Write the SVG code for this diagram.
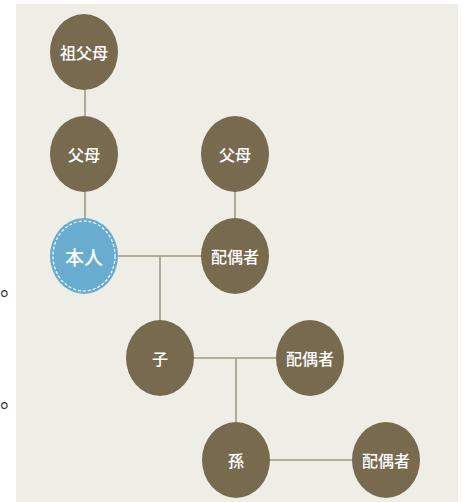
<svg xmlns="http://www.w3.org/2000/svg" width="463" height="502" viewBox="0 0 463 502">
<style>
.bg{fill:#efeee6}
.node{fill:#786a4f}
.self{fill:#68acd0}
.dash{fill:none;stroke:#ffffff;stroke-width:1.2;stroke-dasharray:3 2}
.lbl{fill:#ffffff;font-family:"Noto Sans CJK JP","Noto Sans CJK SC",sans-serif;font-size:16px;font-weight:500;text-anchor:middle;dominant-baseline:central}
.big{font-size:19px}
.conn{stroke:#a09882;stroke-width:1.6;fill:none}
.dot{fill:#333333;font-family:"Noto Sans CJK JP",sans-serif;font-size:22px}
</style>
<rect class="bg" x="16" y="4" width="442" height="498"/>
<text class="dot" x="0" y="295">。</text>
<text class="dot" x="0" y="407">。</text>
<g id="connectors">
<line class="conn" x1="85" y1="89" x2="85" y2="116"/>
<line class="conn" x1="85" y1="191" x2="85" y2="219"/>
<line class="conn" x1="235" y1="191" x2="235" y2="219"/>
<line class="conn" x1="118" y1="256" x2="202" y2="256"/>
<line class="conn" x1="160" y1="256" x2="160" y2="321"/>
<line class="conn" x1="193" y1="358" x2="277" y2="358"/>
<line class="conn" x1="236" y1="358" x2="236" y2="423"/>
<line class="conn" x1="270" y1="460" x2="353" y2="460"/>
</g>
<g id="grandparents">
<ellipse class="node" cx="84" cy="52" rx="34" ry="38"/>
<text class="lbl" x="84" y="52">祖父母</text>
</g>
<g id="parents-left">
<ellipse class="node" cx="84" cy="154" rx="34" ry="38"/>
<text class="lbl" x="84" y="154">父母</text>
</g>
<g id="self">
<ellipse class="self" cx="84" cy="256" rx="34" ry="38"/>
<ellipse class="dash" cx="84" cy="256" rx="31" ry="35"/>
<text class="lbl big" x="84" y="256">本人</text>
</g>
<g id="parents-right">
<ellipse class="node" cx="235" cy="154" rx="34" ry="38"/>
<text class="lbl" x="235" y="154">父母</text>
</g>
<g id="spouse1">
<ellipse class="node" cx="235" cy="256" rx="34" ry="38"/>
<text class="lbl" x="235" y="256">配偶者</text>
</g>
<g id="child">
<ellipse class="node" cx="160" cy="358" rx="34" ry="38"/>
<text class="lbl" x="160" y="358">子</text>
</g>
<g id="spouse2">
<ellipse class="node" cx="310" cy="358" rx="34" ry="38"/>
<text class="lbl" x="310" y="358">配偶者</text>
</g>
<g id="grandchild">
<ellipse class="node" cx="236" cy="460" rx="34" ry="38"/>
<text class="lbl" x="236" y="460">孫</text>
</g>
<g id="spouse3">
<ellipse class="node" cx="386" cy="460" rx="34" ry="38"/>
<text class="lbl" x="386" y="460">配偶者</text>
</g>
</svg>
